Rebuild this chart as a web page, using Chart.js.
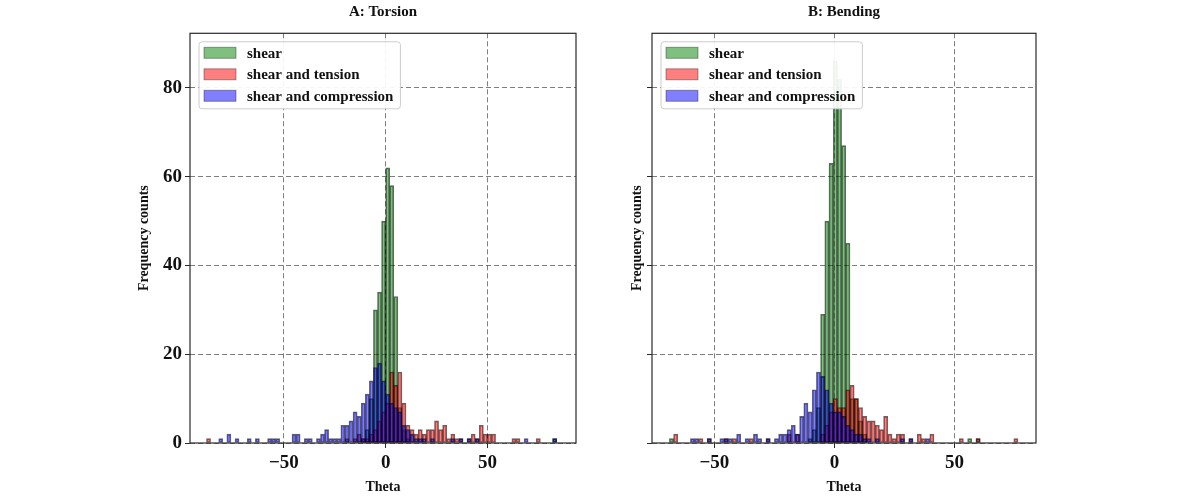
<!DOCTYPE html>
<html>
<head>
<meta charset="utf-8">
<script src="https://cdn.jsdelivr.net/npm/chart.js@4.4.1/dist/chart.umd.min.js"></script>
<style>
  html, body { margin: 0; padding: 0; background: #fff; }
  #wrap { position: relative; width: 1196px; height: 497px; }
  canvas { position: absolute; top: 0; }
  #torsion { left: 0; }
  #bending { left: 598px; }
</style>
</head>
<body>
<div id="wrap">
  <canvas id="torsion" width="598" height="497"></canvas>
  <canvas id="bending" width="598" height="497"></canvas>
</div>
<script>
const seriesLabels = ['shear', 'shear and tension', 'shear and compression'];
const xTickValues = [-50, 0, 50];
const yTickValues = [0, 20, 40, 60, 80];

// A: Torsion - 2 degree bins starting at -90 (90 bins)
const torsionBinStart = -90;
const torsionBinWidth = 2;
const torsionShear = [
  0, 0, 0, 0, 0, 0, 0, 0, 0, 0,
  0, 0, 0, 0, 0, 0, 0, 0, 0, 0,
  0, 0, 0, 0, 0, 0, 0, 0, 0, 0,
  0, 0, 0, 0, 0, 0, 0, 0, 0, 1,
  3, 10, 30, 34, 50, 62, 58, 33, 8, 3,
  1, 0, 0, 0, 0, 0, 0, 0, 0, 0,
  0, 0, 0, 0, 0, 0, 0, 0, 0, 0,
  0, 0, 0, 0, 0, 0, 0, 0, 0, 0,
  0, 0, 0, 0, 0, 0, 1, 0, 0, 0
];
const torsionTension = [
  0, 1, 0, 0, 0, 0, 0, 0, 0, 0,
  0, 0, 0, 0, 0, 0, 0, 0, 0, 0,
  0, 0, 0, 0, 0, 0, 0, 0, 0, 0,
  0, 0, 0, 0, 0, 1, 0, 1, 2, 1,
  1, 2, 3, 5, 7, 9, 16, 13, 16, 9,
  4, 3, 2, 3, 2, 3, 3, 5, 3, 4,
  1, 2, 1, 1, 0, 1, 2, 1, 4, 2,
  2, 2, 0, 0, 0, 0, 1, 1, 0, 0,
  0, 0, 1, 0, 0, 0, 0, 0, 0, 0
];
const torsionCompression = [
  0, 0, 0, 0, 1, 0, 2, 0, 1, 0,
  0, 1, 0, 1, 0, 0, 1, 1, 1, 0,
  0, 0, 2, 2, 0, 1, 1, 0, 1, 2,
  3, 1, 1, 1, 4, 4, 5, 7, 6, 9,
  11, 14, 17, 18, 14, 11, 9, 8, 7, 4,
  3, 2, 1, 1, 1, 0, 1, 0, 0, 0,
  0, 1, 0, 1, 0, 1, 0, 1, 0, 0,
  0, 0, 0, 0, 0, 0, 0, 0, 0, 1,
  0, 0, 0, 0, 0, 0, 1, 0, 0, 0
];

// B: Bending - 1.75 degree bins starting at -70.5 (88 bins)
const bendingBinStart = -70.5;
const bendingBinWidth = 1.75;
const bendingShear = [
  0, 1, 0, 0, 0, 0, 0, 0, 0, 0,
  0, 0, 0, 0, 0, 0, 0, 0, 0, 0,
  0, 0, 0, 0, 0, 0, 0, 0, 0, 0,
  0, 0, 0, 0, 1, 3, 8, 29, 50, 63,
  86, 82, 67, 45, 10, 10, 5, 2, 0, 0,
  0, 0, 0, 0, 0, 0, 0, 0, 0, 0,
  0, 0, 0, 0, 0, 0, 0, 0, 0, 0,
  0, 0, 1, 0, 1, 0, 0, 0, 0, 0,
  0, 0, 0, 0, 0, 0, 0, 0
];
const bendingTension = [
  0, 0, 2, 0, 0, 0, 0, 0, 1, 0,
  1, 0, 0, 0, 1, 0, 1, 0, 0, 0,
  1, 0, 0, 0, 1, 0, 0, 0, 0, 2,
  0, 2, 0, 0, 0, 0, 0, 2, 4, 7,
  10, 8, 8, 12, 13, 10, 8, 6, 5, 5,
  4, 3, 6, 2, 1, 2, 2, 0, 1, 0,
  2, 1, 0, 2, 0, 0, 0, 0, 0, 0,
  1, 0, 0, 0, 1, 0, 0, 0, 0, 0,
  0, 0, 0, 1, 0, 0, 0, 0
];
const bendingCompression = [
  0, 0, 0, 0, 0, 0, 1, 1, 0, 0,
  1, 0, 0, 1, 1, 1, 0, 2, 0, 1,
  0, 2, 1, 0, 1, 0, 1, 2, 2, 3,
  4, 2, 6, 9, 7, 12, 16, 15, 12, 9,
  7, 7, 6, 4, 3, 2, 2, 1, 1, 0,
  1, 0, 0, 0, 0, 0, 1, 0, 1, 0,
  0, 0, 1, 0, 0, 0, 0, 0, 0, 0,
  0, 0, 0, 0, 0, 0, 0, 0, 0, 0,
  0, 0, 0, 0, 0, 0, 0, 0
];

const fills = ['rgba(0,128,0,0.5)', 'rgba(255,0,0,0.5)', 'rgba(0,0,255,0.5)'];
const edgeColor = 'rgba(0,0,0,0.6)';
const serif = '"Liberation Serif", "Times New Roman", serif';
const textColor = '#111';

function toPoints(counts, start, width) {
    return counts
        .map((c, i) => ({ x: start + width * (i + 0.5), y: c }))
        .filter(p => p.y > 0);
}

// box frame round the plot + matplotlib-like legend in the upper left
const frameAndLegend = {
    id: 'frameAndLegend',
    afterDraw(chart) {
        const { ctx, chartArea } = chart;
        ctx.save();
        ctx.strokeStyle = '#2a2a2a';
        ctx.lineWidth = 1.2;
        ctx.strokeRect(chartArea.left, chartArea.top, chartArea.width, chartArea.height);

        ctx.font = 'bold 15px ' + serif;
        const sets = chart.data.datasets;
        const textW = Math.max(...sets.map(d => ctx.measureText(d.label).width));
        const x0 = chartArea.left + 9;
        const y0 = chartArea.top + 8.5;
        const w = 48 + textW + 7;
        const h = 67;
        ctx.beginPath();
        ctx.roundRect(x0, y0, w, h, 3);
        ctx.fillStyle = 'rgba(255,255,255,0.92)';
        ctx.fill();
        ctx.strokeStyle = '#cccccc';
        ctx.lineWidth = 1;
        ctx.stroke();

        sets.forEach((d, k) => {
            const cy = y0 + 11 + k * 21.5;
            ctx.fillStyle = d.backgroundColor;
            ctx.fillRect(x0 + 5, cy - 5.5, 32, 11);
            ctx.strokeStyle = 'rgba(0,0,0,0.35)';
            ctx.strokeRect(x0 + 5, cy - 5.5, 32, 11);
            ctx.fillStyle = textColor;
            ctx.textBaseline = 'middle';
            ctx.textAlign = 'left';
            ctx.fillText(d.label, x0 + 48, cy + 1);
        });
        ctx.restore();
    }
};

function histChart(id, cfg) {
    const ctx = document.getElementById(id).getContext('2d');
    const gridOpts = {
        color: 'rgba(70,70,70,0.7)',
        lineWidth: 1,
        offset: false,
        tickLength: 5,
        tickColor: '#2a2a2a',
        tickWidth: 1,
        tickBorderDash: []
    };
    return new Chart(ctx, {
        type: 'bar',
        data: {
            datasets: cfg.series.map((counts, k) => ({
                label: seriesLabels[k],
                data: toPoints(counts, cfg.start, cfg.width),
                backgroundColor: fills[k],
                borderColor: edgeColor,
                borderWidth: 1,
                borderSkipped: false,
                grouped: false,
                barPercentage: 1,
                categoryPercentage: 1,
                order: 3 - k
            }))
        },
        options: {
            responsive: false,
            animation: false,
            layout: { padding: cfg.padding },
            plugins: {
                legend: { display: false },
                tooltip: { enabled: false },
                title: {
                    display: true,
                    text: cfg.title,
                    fullSize: false,
                    color: textColor,
                    font: { family: serif, size: 15, weight: 'bold' },
                    padding: { top: 3, bottom: 12.3 }
                }
            },
            scales: {
                x: {
                    type: 'linear',
                    min: cfg.xMin,
                    max: cfg.xMax,
                    bounds: 'data',
                    offset: false,
                    z: 1,
                    afterBuildTicks: s => { s.ticks = xTickValues.map(v => ({ value: v })); },
                    afterFit: s => { s.height = 54; },
                    grid: gridOpts,
                    border: { display: false, dash: [5, 3] },
                    ticks: {
                        color: textColor,
                        font: { family: serif, size: 19, weight: 'bold' },
                        padding: 3.5,
                        maxRotation: 0,
                        autoSkip: false,
                        callback: v => v < 0 ? '\u2212' + Math.abs(v) : String(v)
                    },
                    title: {
                        display: true,
                        text: 'Theta',
                        color: textColor,
                        font: { family: serif, size: 14, weight: 'bold' },
                        padding: { top: 0, bottom: 1.6 }
                    }
                },
                y: {
                    min: 0,
                    max: 92.3,
                    bounds: 'data',
                    z: 1,
                    afterBuildTicks: s => { s.ticks = yTickValues.map(v => ({ value: v })); },
                    afterFit: s => { s.width = cfg.yWidth; },
                    grid: gridOpts,
                    border: { display: false, dash: [5, 3] },
                    ticks: {
                        color: textColor,
                        font: { family: serif, size: 19, weight: 'bold' },
                        padding: 3,
                        callback: v => cfg.yLabels ? String(v) : ''
                    },
                    title: {
                        display: true,
                        text: 'Frequency counts',
                        color: textColor,
                        font: { family: serif, size: 14, weight: 'bold' },
                        padding: { top: cfg.yTitlePad, bottom: 0 }
                    }
                }
            }
        },
        plugins: [frameAndLegend]
    });
}

histChart('torsion', {
    title: 'A: Torsion',
    series: [torsionShear, torsionTension, torsionCompression],
    start: torsionBinStart,
    width: torsionBinWidth,
    xMin: -96.1,
    xMax: 93.5,
    padding: { left: 130, right: 22, top: 0, bottom: 0 },
    yWidth: 60,
    yTitlePad: 5.6,
    yLabels: true
});

histChart('bending', {
    title: 'B: Bending',
    series: [bendingShear, bendingTension, bendingCompression],
    start: bendingBinStart,
    width: bendingBinWidth,
    xMin: -76,
    xMax: 84,
    padding: { left: 20, right: 160, top: 0, bottom: 0 },
    yWidth: 34,
    yTitlePad: 10.6,
    yLabels: false
});
</script>
</body>
</html>
